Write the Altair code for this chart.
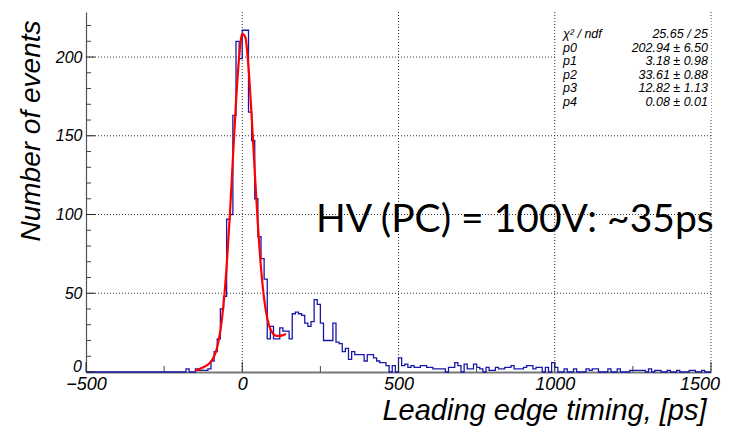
import altair as alt
import pandas as pd

# ---------------- data ----------------
X_MIN, X_MAX = -500, 1500
Y_MAX = 228.6
BIN = 10

peak_start = -200
peak_counts = [0, 0, 2, 0, 0, 2, 1, 1, 1, 2,
               7, 13, 21, 40, 48, 97, 100, 163, 210, 199,
               217, 217, 165, 147, 110, 86, 72, 59, 21, 29]

bump_start = 100
bump_counts = [21, 21, 28, 26, 26, 21, 37, 38, 37, 36,
               31, 29, 32, 46, 43, 31, 20, 20, 20, 31,
               19, 18, 13, 15, 8, 13, 11, 11, 11, 7]

tail_start = 400
tail_counts = [11, 11, 9, 7, 6, 6, 4, 0, 4, 0,
               9, 4, 5, 3, 4, 3, 3, 4, 4, 3,
               3, 2, 2, 2, 2, 0, 3, 3, 6, 4,
               0, 5, 2, 2, 5, 3, 2, 0, 3, 1,
               1, 3, 2, 2, 3, 3, 4, 2, 2, 2,
               3, 4, 4, 2, 3, 3, 0, 3, 0, 6,
               3, 0, 0, 2, 0, 0, 2, 0, 0, 0,
               2, 1, 2, 2, 0, 0, 0, 2, 0, 0,
               2, 0, 0, 0, 1, 1, 1, 1, 1, 0,
               2, 0, 1, 1, 0, 0, 1, 0, 0, 1,
               0, 0, 0, 1, 1, 0, 0, 1, 0, 0]

fit_x = [-150, -140, -130, -120, -110, -100, -90, -80, -70, -60,
         -50, -40, -30, -20, -10, 0, 10, 20, 30, 40,
         50, 60, 70, 80, 90, 100, 110, 120, 130, 140]
fit_y = [0.8, 1.6, 2.5, 3.5, 4.7, 6.6, 10.0, 15.9, 26.2, 42.7,
         66.9, 98.5, 135.1, 171.2, 199.9, 214.8, 212.4, 193.5, 162.8, 127.4,
         93.7, 66.2, 46.5, 34.1, 27.2, 24.0, 22.9, 22.9, 23.4, 24.1]

x_tick_values = [-500, 0, 500, 1000, 1500]
x_axis_labels = [-500, 0, 500, 1000]      # drawn by the axis
x_edge_label = "1500"                      # drawn flush with the right edge
x_minor_ticks = [-250, 250, 750, 1250]
y_tick_values = [0, 50, 100, 150, 200]
y_axis_labels = [50, 100, 150, 200]        # drawn by the axis
y_origin_label = "0"                       # drawn slightly raised
y_minor_ticks = [v for v in range(0, 230, 10) if v % 50 != 0]
grid_x = [0, 500, 1000, 1500]
grid_y = [50, 100, 150, 200]

stat_labels = ["χ² / ndf", "p0", "p1", "p2", "p3", "p4"]
stat_values = ["25.65 / 25", "202.94 ± 6.50", "3.18 ± 0.98",
               "33.61 ± 0.88", "12.82 ± 1.13", "0.08 ± 0.01"]

annotation = "HV (PC) = 100V: ~35ps"
x_title = "Leading edge timing, [ps]"
y_title = "Number of events"

# ---------------- tables ----------------
counts = {}
for start, arr in ((peak_start, peak_counts), (bump_start, bump_counts), (tail_start, tail_counts)):
    for i, c in enumerate(arr):
        counts[start + i * BIN] = c
edges = list(range(X_MIN, X_MAX, BIN))
hist_df = pd.DataFrame({"t": edges + [X_MAX],
                        "n": [counts.get(e, 0) for e in edges] + [0]})
fit_df = pd.DataFrame({"t": fit_x, "n": fit_y})

W, H = 625, 360
FONT = "Liberation Sans"
xs = alt.Scale(domain=[X_MIN, X_MAX], nice=False, zero=False)
ys = alt.Scale(domain=[0, Y_MAX], nice=False, zero=False)
one = pd.DataFrame({"a": [0]})

x_axis = alt.Axis(
    values=x_axis_labels, format="d", grid=False, ticks=False,
    domainColor="#777", domainWidth=2,
    labelFont=FONT, labelFontStyle="italic", labelFontSize=18,
    labelColor="black", labelPadding=3, labelFlush=False, labelOverlap=False,
    title=x_title, titleFont=FONT, titleFontStyle="italic",
    titleFontWeight="normal", titleFontSize=29, titleColor="black",
    titleX=620, titleY=47, titleAlign="right", titleBaseline="alphabetic")
y_axis = alt.Axis(
    values=y_axis_labels, format="d", grid=False, ticks=False,
    domainColor="#555", domainWidth=1.2,
    labelFont=FONT, labelFontStyle="italic", labelFontSize=16,
    labelColor="black", labelPadding=4, labelFlush=False, labelOverlap=False,
    title=y_title, titleFont=FONT, titleFontStyle="italic",
    titleFontWeight="normal", titleFontSize=28, titleColor="black",
    titleAngle=270, titleX=-55, titleY=8, titleAlign="right",
    titleBaseline="middle")


def X(field):
    return alt.X(field, scale=xs, axis=x_axis, title=x_title)


def Y(field):
    return alt.Y(field, scale=ys, axis=y_axis, title=y_title)


grid_v = alt.Chart(pd.DataFrame({"g": grid_x})).mark_rule(
    strokeDash=[1, 2], color="#333", strokeWidth=1).encode(x=X("g:Q"))
grid_h = alt.Chart(pd.DataFrame({"g": grid_y})).mark_rule(
    strokeDash=[1, 2], color="#333", strokeWidth=1).encode(y=Y("g:Q"))

box = alt.Chart(one).mark_rect(color="white").encode(
    x=alt.value(470), x2=alt.value(625), y=alt.value(8), y2=alt.value(108))

hist = alt.Chart(hist_df).mark_line(
    interpolate="step-after", color="#1818a8", strokeWidth=1.3).encode(
    x=X("t:Q"), y=Y("n:Q"))

fit = alt.Chart(fit_df).mark_line(
    interpolate="monotone", color="#ff0000", strokeWidth=2.2).encode(
    x=X("t:Q"), y=Y("n:Q"))

xt_major = alt.Chart(pd.DataFrame({"v": x_tick_values})).mark_rule(
    color="#222", strokeWidth=1).encode(
    x=X("v:Q"), y=alt.value(H), y2=alt.value(H - 10))
xt_minor = alt.Chart(pd.DataFrame({"v": x_minor_ticks})).mark_rule(
    color="#444", strokeWidth=1).encode(
    x=X("v:Q"), y=alt.value(H), y2=alt.value(H - 6))
yt_major = alt.Chart(pd.DataFrame({"v": y_tick_values})).mark_rule(
    color="#222", strokeWidth=1).encode(
    y=Y("v:Q"), x=alt.value(0), x2=alt.value(9))
yt_minor = alt.Chart(pd.DataFrame({"v": y_minor_ticks})).mark_rule(
    color="#444", strokeWidth=1).encode(
    y=Y("v:Q"), x=alt.value(0), x2=alt.value(5))

edge_lab = alt.Chart(one).mark_text(
    text=x_edge_label, font=FONT, fontStyle="italic", fontSize=18, color="black",
    align="right", baseline="top").encode(x=alt.value(W + 9), y=alt.value(H + 4))
origin_lab = alt.Chart(one).mark_text(
    text=y_origin_label, font=FONT, fontStyle="italic", fontSize=16, color="black",
    align="right", baseline="middle").encode(x=alt.value(-4), y=alt.value(H - 5))

note = alt.Chart(one).mark_text(
    text=annotation, font="Lato", fontSize=39, color="black",
    align="left", baseline="alphabetic").encode(
    x=alt.value(230), y=alt.value(220))

stat_layers = []
for i, (lab, val) in enumerate(zip(stat_labels, stat_values)):
    ypos = 22 + 13.5 * i
    stat_layers.append(alt.Chart(one).mark_text(
        text=lab, font=FONT, fontStyle="italic", fontSize=12.5, color="black",
        align="left", baseline="middle").encode(x=alt.value(477), y=alt.value(ypos)))
    stat_layers.append(alt.Chart(one).mark_text(
        text=val, font=FONT, fontStyle="italic", fontSize=12.5, color="black",
        align="right", baseline="middle").encode(x=alt.value(622), y=alt.value(ypos)))

chart = alt.layer(
    grid_v, grid_h, box, hist, fit, xt_major, xt_minor, yt_major, yt_minor,
    edge_lab, origin_lab, note, *stat_layers
).properties(
    width=W, height=H,
    autosize=alt.AutoSizeParams(type="none"),
    padding={"left": 78, "top": 4, "right": 10, "bottom": 56},
    background="white",
).configure_view(strokeWidth=0)

chart.save("out.html", embed_options={"renderer": "svg", "actions": False})
